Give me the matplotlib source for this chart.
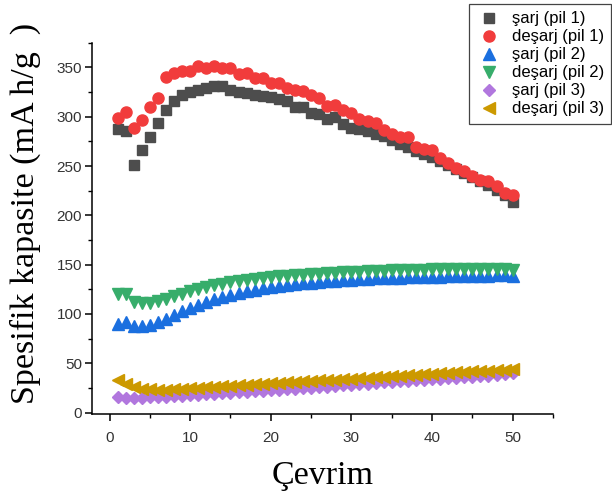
import matplotlib.pyplot as plt
import numpy as np

cycles = np.arange(1, 51)

# pil 1
sarj_pil1 = [288, 286, 251, 266, 279, 294, 307, 316, 322, 325,
             327, 329, 331, 331, 327, 325, 324, 322, 321, 320,
             318, 316, 310, 310, 304, 303, 298, 300, 293, 289,
             288, 286, 283, 280, 276, 272, 269, 265, 262, 259,
             255, 251, 247, 243, 239, 235, 231, 226, 221, 214]
desarj_pil1 = [299, 305, 289, 297, 310, 319, 340, 344, 346, 346,
               351, 349, 351, 349, 349, 343, 344, 339, 339, 334,
               334, 329, 327, 326, 322, 319, 311, 312, 307, 304,
               298, 296, 294, 287, 283, 279, 279, 269, 267, 266,
               258, 253, 248, 245, 240, 236, 235, 230, 223, 221]

# pil 2
sarj_pil2 = [90, 92, 88, 88, 89, 92, 95, 99, 103, 106,
             109, 112, 115, 117, 119, 121, 123, 124, 126, 127,
             128, 129, 130, 131, 131.5, 132, 133, 133.5, 134, 134.5,
             135, 135.5, 136, 136, 136.5, 136.5, 137, 137, 137.5, 137.5,
             137.5, 138, 138, 138, 138.5, 138.5, 138.5, 139, 139, 138]
desarj_pil2 = [120, 120, 112, 111, 111, 113, 115, 118, 120, 123,
               125, 127, 129, 130, 132, 133, 134, 135, 136, 137,
               138, 138.5, 139, 140, 140.5, 141, 141.5, 142, 142.5, 143,
               143, 143.5, 144, 144, 144.5, 144.5, 145, 145, 145, 145.5,
               145.5, 145.5, 146, 146, 146, 146, 146, 146, 146, 145]

# pil 3
sarj_pil3 = [16, 15, 15, 15, 15.5, 16, 16, 16.5, 17, 17.5,
             18, 18.5, 19, 19.5, 20, 20.5, 21, 21.5, 22, 22.5,
             23, 23.5, 24, 24.5, 25, 25.5, 26, 27, 27.5, 28,
             28.5, 29, 30, 30.5, 31, 31.5, 32, 33, 33.5, 34,
             34.5, 35, 35.5, 36, 36.5, 37, 37.5, 38, 39, 40]
desarj_pil3 = [33, 29, 26, 24, 23.5, 23, 23, 23.5, 24, 24.5,
               25, 25.5, 26, 26.5, 27, 27.5, 28, 28.5, 29, 29.5,
               30, 30.5, 31, 31.5, 32, 32.5, 33, 33.5, 34, 34.5,
               35, 35.5, 36, 36.5, 37, 37.5, 38, 38.5, 39, 39.5,
               40, 40.5, 41, 41.5, 42, 42, 42.5, 43, 43.5, 44]

plt.rcParams['font.family'] = ['Liberation Sans', 'DejaVu Sans']

fig = plt.figure(figsize=(6.12, 4.92), dpi=100)
ax = fig.add_axes([0.150, 0.1585, 0.7536, 0.7545])

ax.plot(cycles, sarj_pil1, 's', color='#4d4d4d', ms=6.5, label='şarj (pil 1)')
ax.plot(cycles, desarj_pil1, 'o', color='#f13c3c', ms=8, label='deşarj (pil 1)')
ax.plot(cycles, sarj_pil2, '^', color='#1a6fdf', ms=8, label='şarj (pil 2)')
ax.plot(cycles, desarj_pil2, 'v', color='#37ad6b', ms=8, label='deşarj (pil 2)')
ax.plot(cycles, sarj_pil3, 'D', color='#b177de', ms=6, label='şarj (pil 3)')
ax.plot(cycles, desarj_pil3, '<', color='#cc9900', ms=8, label='deşarj (pil 3)')

ax.set_xlim(-2.2, 55)
ax.set_ylim(-1.5, 374)
ax.set_xticks(np.arange(0, 51, 10))
ax.set_xticks(np.arange(5, 56, 10), minor=True)
ax.set_yticks(np.arange(0, 351, 50))
ax.set_yticks(np.arange(25, 376, 50), minor=True)

for s in ['top', 'right']:
    ax.spines[s].set_visible(False)
for s in ['left', 'bottom']:
    ax.spines[s].set_linewidth(1.1)

ax.tick_params(axis='both', which='major', direction='out', length=5, width=1.1,
               labelsize=11, labelcolor='#333333')
ax.tick_params(axis='both', which='minor', direction='out', length=3, width=1.0)
ax.tick_params(axis='x', which='major', pad=7)
ax.tick_params(axis='y', which='major', pad=2)

ax.set_xlabel('Çevrim', family='Liberation Serif', fontsize=24.5)
ax.set_ylabel('Spesifik kapasite (mA h/g  )', family='Liberation Serif', fontsize=24.5)
ax.xaxis.set_label_coords(0.5, -0.125)
ax.yaxis.set_label_coords(-0.11, 0.54)

leg = ax.legend(loc='upper left', bbox_to_anchor=(469 / 612, 1 - 4 / 492),
                bbox_transform=fig.transFigure, fontsize=12, numpoints=1,
                fancybox=False, framealpha=1, edgecolor='#444444',
                labelspacing=0.18, handlelength=1.5, handletextpad=0.6,
                borderpad=0.45, borderaxespad=0)
leg.get_frame().set_linewidth(0.9)

fig.savefig('out.png', dpi=100)
